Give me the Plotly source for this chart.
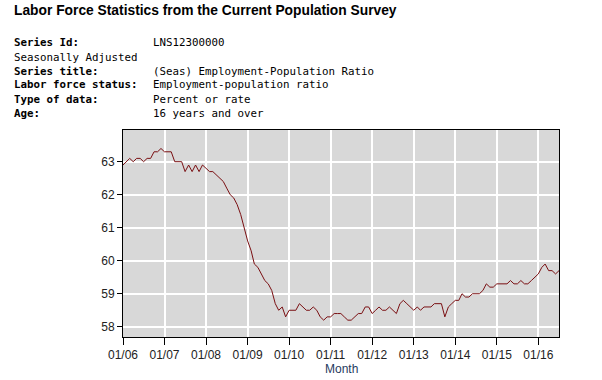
import plotly.graph_objects as go
import pandas as pd

# Monthly employment-population ratio, Jan 2006 - Jul 2016
values_2006 = [62.9, 63.0, 63.1, 63.0, 63.1, 63.1, 63.0, 63.1, 63.1, 63.3, 63.3, 63.4]
values_2007 = [63.3, 63.3, 63.3, 63.0, 63.0, 63.0, 62.7, 62.9, 62.7, 62.9, 62.7, 62.9]
values_2008 = [62.8, 62.7, 62.7, 62.6, 62.5, 62.4, 62.2, 62.0, 61.9, 61.7, 61.4, 61.0]
values_2009 = [60.6, 60.3, 59.9, 59.8, 59.6, 59.4, 59.3, 59.1, 58.7, 58.5, 58.6, 58.3]
values_2010 = [58.5, 58.5, 58.5, 58.7, 58.6, 58.5, 58.5, 58.6, 58.5, 58.3, 58.2, 58.3]
values_2011 = [58.3, 58.4, 58.4, 58.4, 58.3, 58.2, 58.2, 58.3, 58.4, 58.4, 58.6, 58.6]
values_2012 = [58.4, 58.5, 58.6, 58.5, 58.5, 58.6, 58.5, 58.4, 58.7, 58.8, 58.7, 58.6]
values_2013 = [58.5, 58.6, 58.5, 58.6, 58.6, 58.6, 58.7, 58.7, 58.7, 58.3, 58.6, 58.7]
values_2014 = [58.8, 58.8, 59.0, 58.9, 58.9, 59.0, 59.0, 59.0, 59.1, 59.3, 59.2, 59.2]
values_2015 = [59.3, 59.3, 59.3, 59.3, 59.4, 59.3, 59.3, 59.4, 59.3, 59.3, 59.4, 59.5]
values_2016 = [59.6, 59.8, 59.9, 59.7, 59.7, 59.6, 59.7]

values = (values_2006 + values_2007 + values_2008 + values_2009 + values_2010 +
          values_2011 + values_2012 + values_2013 + values_2014 + values_2015 + values_2016)
months = pd.date_range("2006-01-01", periods=len(values), freq="MS")

tick_dates = ["2006-01-01", "2007-01-01", "2008-01-01", "2009-01-01", "2010-01-01",
              "2011-01-01", "2012-01-01", "2013-01-01", "2014-01-01", "2015-01-01",
              "2016-01-01"]
tick_labels = ["01/06", "01/07", "01/08", "01/09", "01/10", "01/11",
               "01/12", "01/13", "01/14", "01/15", "01/16"]
y_ticks = [58, 59, 60, 61, 62, 63]

header_title = "Labor Force Statistics from the Current Population Survey"
info_labels = ["Series Id:", "", "Series title:", "Labor force status:", "Type of data:", "Age:"]
info_full = ["", "Seasonally Adjusted", "", "", "", ""]
info_values = ["LNS12300000", "", "(Seas) Employment-Population Ratio",
               "Employment-population ratio", "Percent or rate", "16 years and over"]

W, H = 602, 380
L, R, T, B = 123, 559, 130, 337

fig = go.Figure()
fig.add_trace(go.Scatter(x=months, y=values, mode="lines",
                         line=dict(color="#7a0f12", width=1), hoverinfo="x+y"))

def px_x(px):
    return (px - L) / (R - L)

def px_y(py):
    return (B - py) / (B - T)

annotations = [dict(text="<b>" + header_title + "</b>", xref="paper", yref="paper",
                    x=px_x(12), y=px_y(10), xanchor="left", yanchor="middle",
                    showarrow=False, font=dict(family="Liberation Sans, Arial", size=13.8, color="#000"))]
mono = "DejaVu Sans Mono, monospace"
row_y = [43, 57, 71, 85, 99, 113]
for i, yy in enumerate(row_y):
    if info_labels[i]:
        annotations.append(dict(text="<b>" + info_labels[i] + "</b>", xref="paper", yref="paper",
                                x=px_x(12), y=px_y(yy), xanchor="left", yanchor="middle",
                                showarrow=False, font=dict(family=mono, size=10.8, color="#000")))
    if info_full[i]:
        annotations.append(dict(text=info_full[i], xref="paper", yref="paper",
                                x=px_x(12), y=px_y(yy), xanchor="left", yanchor="middle",
                                showarrow=False, font=dict(family=mono, size=10.8, color="#000")))
    if info_values[i]:
        annotations.append(dict(text=info_values[i], xref="paper", yref="paper",
                                x=px_x(151), y=px_y(yy), xanchor="left", yanchor="middle",
                                showarrow=False, font=dict(family=mono, size=10.8, color="#000")))

# axis title placed as annotation at its page position
annotations.append(dict(text="Month", xref="paper", yref="paper",
                        x=0.5, y=px_y(369), xanchor="center", yanchor="middle",
                        showarrow=False,
                        font=dict(family="Liberation Sans, Arial", size=12, color="#1f3a60")))

fig.update_layout(
    width=W, height=H,
    margin=dict(l=L, r=W - R, t=T, b=H - B, pad=0, autoexpand=False),
    paper_bgcolor="white", plot_bgcolor="#d8d8d8",
    showlegend=False,
    annotations=annotations,
    xaxis=dict(range=["2006-01-01", "2016-07-01"], tickvals=tick_dates, ticktext=tick_labels,
               automargin=False,
               ticks="outside", ticklen=7, tickcolor="#000", tickwidth=1,
               showline=True, linecolor="#000", linewidth=1, mirror=True,
               showgrid=True, gridcolor="white", gridwidth=1.5, zeroline=False,
               tickfont=dict(family="Liberation Sans, Arial", size=12, color="#222")),
    yaxis=dict(range=[57.69, 63.96], tickvals=y_ticks,
               automargin=False,
               ticks="outside", ticklen=5, tickcolor="#000", tickwidth=1,
               showline=True, linecolor="#000", linewidth=1, mirror=True,
               showgrid=True, gridcolor="white", gridwidth=1.5, zeroline=False,
               tickfont=dict(family="Liberation Sans, Arial", size=12, color="#222")),
)

fig.write_html("out.html", config={"displayModeBar": False},
               post_script="document.body.style.margin='0';document.body.style.overflow='hidden';")
